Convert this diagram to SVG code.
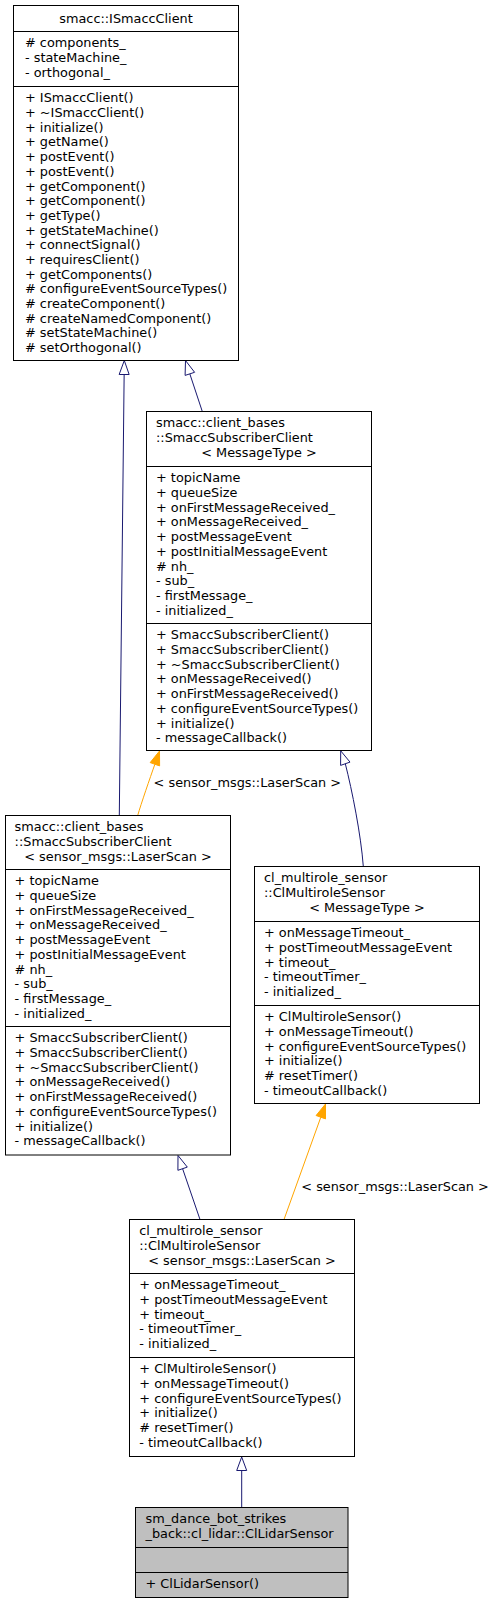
<svg xmlns="http://www.w3.org/2000/svg" width="495" height="1604" viewBox="0 0 495 1604">
<style>
text{font-family:"DejaVu Sans","Liberation Sans",sans-serif;font-size:12.85px;fill:#000}
.c{text-anchor:middle}
.box{fill:#fff;stroke:#000;stroke-width:1}
.focus{fill:#bfbfbf;stroke:#000;stroke-width:1}
.sep{stroke:#000;stroke-width:1}
.inh{fill:none;stroke:#191970;stroke-width:1}
.inhh{fill:#fff;stroke:#191970;stroke-width:1}
.tpl{fill:none;stroke:#ffa500;stroke-width:1}
.tplh{fill:#ffa500;stroke:#ffa500;stroke-width:1}
</style>
<rect width="495" height="1604" fill="#fff"/>
<g id="connectors">
<path class="inh" d="M119.3,815.5 L124.15,374.5"/>
<polygon class="inhh" points="124.3,360.5 129.15,374.5 119.15,374.5"/>
<path class="inh" d="M202.3,411.5 L189.8,373.8"/>
<polygon class="inhh" points="185.5,360.5 194.6,372.3 185.1,375.4"/>
<path class="tpl" d="M137.7,815.5 C141,804 150,778 154.9,764.2"/>
<polygon class="tplh" points="159.5,751 159.6,765.9 150.2,762.6"/>
<text x="153.6" y="787">&lt; sensor_msgs::LaserScan &gt;</text>
<path class="inh" d="M363.3,866.5 C361,835 352,790 345.3,763.7"/>
<polygon class="inhh" points="340.7,750.8 350,762.1 340.6,765.4"/>
<path class="inh" d="M200,1219.5 L182.6,1168.7"/>
<polygon class="inhh" points="178,1155.5 187.3,1167.1 177.9,1170.3"/>
<path class="tpl" d="M284,1219.5 L320.8,1117.2"/>
<polygon class="tplh" points="325.5,1104 325.5,1118.9 316.1,1115.5"/>
<text x="301.3" y="1191">&lt; sensor_msgs::LaserScan &gt;</text>
<path class="inh" d="M241.7,1507.5 L241.7,1470.5"/>
<polygon class="inhh" points="241.7,1457 246.7,1470.5 236.7,1470.5"/>
</g>
<g id="node_ISmaccClient">
<rect class="box" x="13.5" y="5.5" width="225" height="355"/>
<line class="sep" x1="13.5" y1="31.5" x2="238.5" y2="31.5"/>
<line class="sep" x1="13.5" y1="86.5" x2="238.5" y2="86.5"/>
<text class="c" x="126" y="22.8">smacc::ISmaccClient</text>
<text y="47.3"><tspan x="25"># components_</tspan><tspan x="25" dy="14.7">- stateMachine_</tspan><tspan x="25" dy="14.7">- orthogonal_</tspan></text>
<text y="102.3"><tspan x="25">+ ISmaccClient()</tspan><tspan x="25" dy="14.7">+ ~ISmaccClient()</tspan><tspan x="25" dy="14.7">+ initialize()</tspan><tspan x="25" dy="14.7">+ getName()</tspan><tspan x="25" dy="14.7">+ postEvent()</tspan><tspan x="25" dy="14.7">+ postEvent()</tspan><tspan x="25" dy="14.7">+ getComponent()</tspan><tspan x="25" dy="14.7">+ getComponent()</tspan><tspan x="25" dy="14.7">+ getType()</tspan><tspan x="25" dy="14.7">+ getStateMachine()</tspan><tspan x="25" dy="14.7">+ connectSignal()</tspan><tspan x="25" dy="14.7">+ requiresClient()</tspan><tspan x="25" dy="14.7">+ getComponents()</tspan><tspan x="25" dy="14.7"># configureEventSourceTypes()</tspan><tspan x="25" dy="14.7"># createComponent()</tspan><tspan x="25" dy="14.7"># createNamedComponent()</tspan><tspan x="25" dy="14.7"># setStateMachine()</tspan><tspan x="25" dy="14.7"># setOrthogonal()</tspan></text>
</g>
<g id="node_SmaccSubscriberClient_MessageType">
<rect class="box" x="146.5" y="411.5" width="225" height="339"/>
<line class="sep" x1="146.5" y1="466.5" x2="371.5" y2="466.5"/>
<line class="sep" x1="146.5" y1="623.5" x2="371.5" y2="623.5"/>
<text y="427.3"><tspan x="156">smacc::client_bases</tspan><tspan x="156" dy="14.7">::SmaccSubscriberClient</tspan></text>
<text class="c" x="259" y="456.7">&lt; MessageType &gt;</text>
<text y="482.3"><tspan x="156">+ topicName</tspan><tspan x="156" dy="14.7">+ queueSize</tspan><tspan x="156" dy="14.7">+ onFirstMessageReceived_</tspan><tspan x="156" dy="14.7">+ onMessageReceived_</tspan><tspan x="156" dy="14.7">+ postMessageEvent</tspan><tspan x="156" dy="14.7">+ postInitialMessageEvent</tspan><tspan x="156" dy="14.7"># nh_</tspan><tspan x="156" dy="14.7">- sub_</tspan><tspan x="156" dy="14.7">- firstMessage_</tspan><tspan x="156" dy="14.7">- initialized_</tspan></text>
<text y="639.3"><tspan x="156">+ SmaccSubscriberClient()</tspan><tspan x="156" dy="14.7">+ SmaccSubscriberClient()</tspan><tspan x="156" dy="14.7">+ ~SmaccSubscriberClient()</tspan><tspan x="156" dy="14.7">+ onMessageReceived()</tspan><tspan x="156" dy="14.7">+ onFirstMessageReceived()</tspan><tspan x="156" dy="14.7">+ configureEventSourceTypes()</tspan><tspan x="156" dy="14.7">+ initialize()</tspan><tspan x="156" dy="14.7">- messageCallback()</tspan></text>
</g>
<g id="node_SmaccSubscriberClient_LaserScan">
<rect class="box" x="5.5" y="815.5" width="225" height="339.5"/>
<line class="sep" x1="5.5" y1="869.5" x2="230.5" y2="869.5"/>
<line class="sep" x1="5.5" y1="1026.5" x2="230.5" y2="1026.5"/>
<text y="831.3"><tspan x="14.6">smacc::client_bases</tspan><tspan x="14.6" dy="14.7">::SmaccSubscriberClient</tspan></text>
<text class="c" x="118" y="860.7">&lt; sensor_msgs::LaserScan &gt;</text>
<text y="885.3"><tspan x="14.6">+ topicName</tspan><tspan x="14.6" dy="14.7">+ queueSize</tspan><tspan x="14.6" dy="14.7">+ onFirstMessageReceived_</tspan><tspan x="14.6" dy="14.7">+ onMessageReceived_</tspan><tspan x="14.6" dy="14.7">+ postMessageEvent</tspan><tspan x="14.6" dy="14.7">+ postInitialMessageEvent</tspan><tspan x="14.6" dy="14.7"># nh_</tspan><tspan x="14.6" dy="14.7">- sub_</tspan><tspan x="14.6" dy="14.7">- firstMessage_</tspan><tspan x="14.6" dy="14.7">- initialized_</tspan></text>
<text y="1042.3"><tspan x="14.6">+ SmaccSubscriberClient()</tspan><tspan x="14.6" dy="14.7">+ SmaccSubscriberClient()</tspan><tspan x="14.6" dy="14.7">+ ~SmaccSubscriberClient()</tspan><tspan x="14.6" dy="14.7">+ onMessageReceived()</tspan><tspan x="14.6" dy="14.7">+ onFirstMessageReceived()</tspan><tspan x="14.6" dy="14.7">+ configureEventSourceTypes()</tspan><tspan x="14.6" dy="14.7">+ initialize()</tspan><tspan x="14.6" dy="14.7">- messageCallback()</tspan></text>
</g>
<g id="node_ClMultiroleSensor_MessageType">
<rect class="box" x="254.5" y="866.5" width="225" height="237"/>
<line class="sep" x1="254.5" y1="921.5" x2="479.5" y2="921.5"/>
<line class="sep" x1="254.5" y1="1005.5" x2="479.5" y2="1005.5"/>
<text y="882.3"><tspan x="264">cl_multirole_sensor</tspan><tspan x="264" dy="14.7">::ClMultiroleSensor</tspan></text>
<text class="c" x="367" y="911.7">&lt; MessageType &gt;</text>
<text y="937.3"><tspan x="264">+ onMessageTimeout_</tspan><tspan x="264" dy="14.7">+ postTimeoutMessageEvent</tspan><tspan x="264" dy="14.7">+ timeout_</tspan><tspan x="264" dy="14.7">- timeoutTimer_</tspan><tspan x="264" dy="14.7">- initialized_</tspan></text>
<text y="1021.3"><tspan x="264">+ ClMultiroleSensor()</tspan><tspan x="264" dy="14.7">+ onMessageTimeout()</tspan><tspan x="264" dy="14.7">+ configureEventSourceTypes()</tspan><tspan x="264" dy="14.7">+ initialize()</tspan><tspan x="264" dy="14.7"># resetTimer()</tspan><tspan x="264" dy="14.7">- timeoutCallback()</tspan></text>
</g>
<g id="node_ClMultiroleSensor_LaserScan">
<rect class="box" x="129.5" y="1219.5" width="225" height="237"/>
<line class="sep" x1="129.5" y1="1273.5" x2="354.5" y2="1273.5"/>
<line class="sep" x1="129.5" y1="1357.5" x2="354.5" y2="1357.5"/>
<text y="1235.3"><tspan x="139.3">cl_multirole_sensor</tspan><tspan x="139.3" dy="14.7">::ClMultiroleSensor</tspan></text>
<text class="c" x="242" y="1264.7">&lt; sensor_msgs::LaserScan &gt;</text>
<text y="1289.3"><tspan x="139.3">+ onMessageTimeout_</tspan><tspan x="139.3" dy="14.7">+ postTimeoutMessageEvent</tspan><tspan x="139.3" dy="14.7">+ timeout_</tspan><tspan x="139.3" dy="14.7">- timeoutTimer_</tspan><tspan x="139.3" dy="14.7">- initialized_</tspan></text>
<text y="1373.3"><tspan x="139.3">+ ClMultiroleSensor()</tspan><tspan x="139.3" dy="14.7">+ onMessageTimeout()</tspan><tspan x="139.3" dy="14.7">+ configureEventSourceTypes()</tspan><tspan x="139.3" dy="14.7">+ initialize()</tspan><tspan x="139.3" dy="14.7"># resetTimer()</tspan><tspan x="139.3" dy="14.7">- timeoutCallback()</tspan></text>
</g>
<g id="node_ClLidarSensor">
<rect class="focus" x="135.5" y="1507.5" width="212.5" height="90"/>
<line class="sep" x1="135.5" y1="1547.5" x2="348" y2="1547.5"/>
<line class="sep" x1="135.5" y1="1572.5" x2="348" y2="1572.5"/>
<text y="1523.3"><tspan x="145.5">sm_dance_bot_strikes</tspan><tspan x="145.5" dy="14.7">_back::cl_lidar::ClLidarSensor</tspan></text>
<text x="145.5" y="1588.3">+ ClLidarSensor()</text>
</g>
</svg>
